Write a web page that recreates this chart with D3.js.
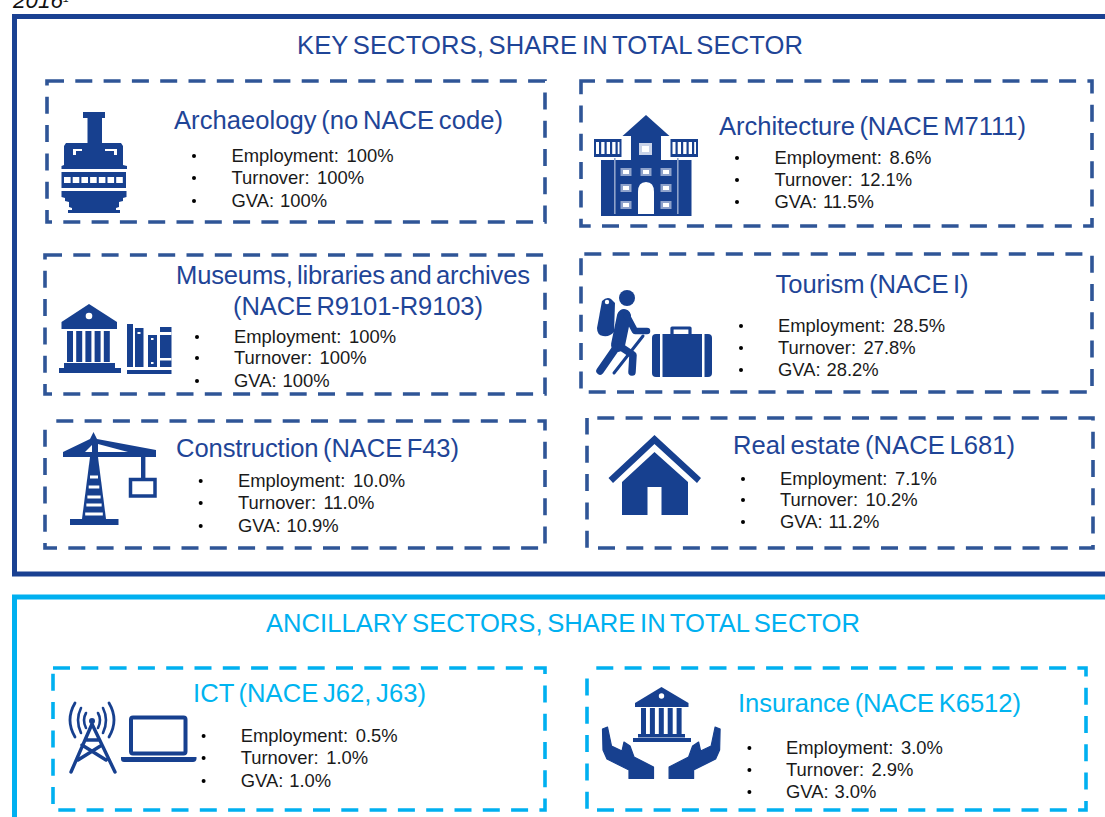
<!DOCTYPE html>
<html><head><meta charset="utf-8">
<script src="https://cdn.jsdelivr.net/npm/d3@7"></script>
<style>
html,body{margin:0;padding:0;background:#fff;overflow:hidden}
svg{display:block;font-family:"Liberation Sans",Arial,sans-serif}
</style></head><body>
<svg id="c" width="1105" height="817" viewBox="0 0 1105 817"></svg>
<script>
// ---- data ----
const yearLabel = "2016";
const sectionTitles = ["KEY SECTORS, SHARE IN TOTAL SECTOR", "ANCILLARY SECTORS, SHARE IN TOTAL SECTOR"];
const sectors = [
  ["Archaeology (no NACE code)"],
  ["Architecture (NACE M7111)"],
  ["Museums, libraries and archives", "(NACE R9101-R9103)"],
  ["Tourism (NACE I)"],
  ["Construction (NACE F43)"],
  ["Real estate (NACE L681)"],
  ["ICT (NACE J62, J63)"],
  ["Insurance (NACE K6512)"]
];
const employment = [100, 8.6, 100, 28.5, 10.0, 7.1, 0.5, 3.0];
const turnover   = [100, 12.1, 100, 27.8, 11.0, 10.2, 1.0, 2.9];
const gva        = [100, 11.5, 100, 28.2, 10.9, 11.2, 1.0, 3.0];
const indicators = ["Employment:", "Turnover:", "GVA:"];

// ---- layout (separate from data) ----
const DARK = "#1a4192", DASH = "#2f5597", LIGHT = "#00b0f0", INK = "#17408f";
const indicatorGap = [2.6, 2.4, 0.8];
const sectionLayout = [
  {x:297, w:506, y:54, color:"#1f4597"},
  {x:266, w:594, y:632, color:"#00b0f0"}
];
const cardLayout = [
  {b:[47,545,81,222], t:[[174,329,129]], bx:194, tx:231.5, ys:[162,184,207], c:0, off:0},
  {b:[581,1092,81,226], t:[[719,307,135]], bx:737, tx:774.5, ys:[164,186,208], c:0, off:3},
  {b:[45,545,255,394], t:[[176,354,284],[233,250,315]], bx:197, tx:234, ys:[343,364,387], c:0, off:0},
  {b:[581,1092,254,392], t:[[775.5,193,293]], bx:741, tx:778, ys:[332,354,376], c:0, off:25},
  {b:[45,545,421,548], t:[[176,283,457]], bx:200.7, tx:238, ys:[487,509,532], c:0, off:17},
  {b:[587,1093,418,548], t:[[733,282,454]], bx:743, tx:780, ys:[485,506,528], c:0, off:18},
  {b:[53,545,668,810], t:[[193,233,702]], bx:203.6, tx:240.7, ys:[742,764,787], c:1, off:0},
  {b:[587,1086,668,810], t:[[738,283,712]], bx:749.4, tx:786, ys:[754,776,798], c:1, off:19}
];

const svg = d3.select("#c");
const fmt = v => v === 100 ? "100%" : d3.format(".1f")(v) + "%";

// year label cut off at top
svg.append("text").attr("x",13).attr("y",8).attr("font-size",22.5).attr("font-style","italic").attr("fill","#111")
  .text(yearLabel).append("tspan").attr("font-size",11).attr("dy",-6).text("1");

// section frames, open on the right / bottom
const frame = d3.path(); frame.moveTo(1130,16.5); frame.lineTo(14.5,16.5); frame.lineTo(14.5,574); frame.lineTo(1130,574);
svg.append("path").attr("d",frame.toString()).attr("fill","none").attr("stroke",DARK).attr("stroke-width",5);
const frame2 = d3.path(); frame2.moveTo(1130,597); frame2.lineTo(14.5,597); frame2.lineTo(14.5,840);
svg.append("path").attr("d",frame2.toString()).attr("fill","none").attr("stroke",LIGHT).attr("stroke-width",5);

svg.selectAll("text.section").data(sectionTitles).join("text").attr("class","section")
  .attr("x",(d,i)=>sectionLayout[i].x).attr("y",(d,i)=>sectionLayout[i].y)
  .attr("textLength",(d,i)=>sectionLayout[i].w).attr("lengthAdjust","spacing")
  .attr("font-size",25.6).attr("word-spacing",-2.5).attr("fill",(d,i)=>sectionLayout[i].color).text(d=>d);

// cards
const rows = sectors.map((s,i)=>({title:s, vals:[employment[i],turnover[i],gva[i]], L:cardLayout[i]}));
const cards = svg.selectAll("g.card").data(rows).join("g").attr("class","card");
cards.append("path")
  .attr("d",d=>{const [x0,x1,y0,y1]=d.L.b,p=d3.path();p.moveTo(x0,y0);p.lineTo(x1,y0);p.lineTo(x1,y1);p.lineTo(x0,y1);p.closePath();return p.toString();})
  .attr("fill","none").attr("stroke",d=>d.L.c?LIGHT:DASH).attr("stroke-width",3.6)
  .attr("stroke-dasharray","17 11.3").attr("stroke-dashoffset",d=>d.L.off);
cards.each(function(d){
  const g=d3.select(this);
  d.title.forEach((t,j)=>{
    const [x,w,y]=d.L.t[j];
    g.append("text").attr("x",x).attr("y",y).attr("font-size",25.6).attr("word-spacing",-2.5).attr("textLength",w).attr("lengthAdjust","spacing")
      .attr("fill",d.L.c?"#00b4f0":"#1f4597").text(t);
  });
  d.vals.forEach((v,j)=>{
    g.append("circle").attr("cx",d.L.bx).attr("cy",d.L.ys[j]-6).attr("r",2).attr("fill","#000");
    g.append("text").attr("x",d.L.tx).attr("y",d.L.ys[j]).attr("font-size",18.4).attr("word-spacing",indicatorGap[j]).attr("fill","#1a1a1a")
      .text(indicators[j]+" "+fmt(v));
  });
});

// ---- pictograms ----
const ic = svg.append("g").attr("fill",INK);
const R=(x,y,w,h,f)=>ic.append("rect").attr("x",x).attr("y",y).attr("width",w).attr("height",h).attr("fill",f||INK);
const P=(d,f)=>ic.append("path").attr("d",d).attr("fill",f||INK);
const S=(d,w,c)=>ic.append("path").attr("d",d).attr("fill","none").attr("stroke",c||INK).attr("stroke-width",w).attr("stroke-linecap","round").attr("stroke-linejoin","round");
const C=(x,y,r,f)=>ic.append("circle").attr("cx",x).attr("cy",y).attr("r",r).attr("fill",f||INK);

// amphora
R(83,112,22,6);R(87.5,118,14.5,25);
P("M66,143H121L123,146V165L127,166V169H61.5V166L64,165V146Z");
P("M73,149H82V151H76V155H73Z","#fff");P("M105,149H117V155H114V151H105Z","#fff");
R(61.5,172,64.5,16);
d3.range(7).forEach(i=>R(64+i*8.7,177,6.6,6,"#fff"));
P("M61.5,191H126.5V197L123,198V201L119,202V207L116,208V210H120V213H68V210H72V208L69,207V202L65,201V198L61.5,197Z");

// architecture building
P("M646,115L669.5,136H622.5Z");R(631,136,30,25);R(639,143,13,12,"#c9d3e8");R(642,146,7,6,"#fff");
R(601,160,90.5,56);
[[594,139],[670.5,139]].forEach(([x,y])=>{R(x,y,27.5,18);R(x+2,y+3,23.5,12,"#fff");d3.range(4).forEach(i=>R(x+5+i*5.5,y+3,2.2,12));});
R(614,158,1.6,56,"#8ea2cb");R(677,158,1.6,56,"#8ea2cb");
P("M638,214V192Q638,182,646,182Q654,182,654,192V214Z","#fff");
[[626,172],[646,172],[666,172],[626,188],[666,188],[626,205],[666,205]].forEach(([x,y])=>{R(x-5.5,y-4,11,8,"#8ea2cb");R(x-3,y-2,6,4,"#fff");});

// museum + books
P("M89,304L117,322V329H61.5V322Z");C(89,316,3.3,"#fff");
d3.range(5).forEach(i=>R(67+i*9.2,331,6,31));
R(64,363,51,5);R(59,368,62,5);
R(127,324,6,43);R(135,328,8.5,39);R(148,335,9,32);R(160,327,11.5,40);
R(137.5,332,3,2,"#fff");R(151,338,2.5,2,"#fff");R(151,362,2.5,2,"#fff");R(160,332,11.5,3,"#fff");R(160,358,11.5,2.5,"#fff");
R(127,370,44.5,4);

// hiker + suitcase
C(627,298,8);
P("M602,301Q607,296,611,299L615,303L614,332Q610,337,603,336Q597,335,597,328Z");C(607,302,2.2,"#fff");
S("M624,316L618,345",14);S("M618,345L600,371",7.5);S("M621,347L633,355L632,372",7.5);S("M627,316L635,331L647,331",6.5);S("M643,336L614,373",3);
P("M652,338Q652,334,656,334H708Q712,334,712,338V373Q712,377,708,377H656Q652,377,652,373Z");
R(660,333,2.5,45,"#fff");R(702,333,2.5,45,"#fff");
S("M672,334V328H690V334",3.2);

// crane
P("M93.5,432L97,439L156,450L156,457H63L63,452L90,439Z");
P("M85,452L92,445V452Z","#fff");P("M98,444L128,452H98Z","#fff");
P("M90,457H98L106,519H82Z");
[477,487,497,505,514].forEach(y=>{const hw=4+(y-457)*0.13;R(94-hw+2.6,y-1.5,2*hw-5.2,3,"#fff");});
R(70,519,48.5,6);R(141,457,4.4,22);
ic.append("rect").attr("x",130.5).attr("y",479.5).attr("width",24.5).attr("height",16.5).attr("fill","none").attr("stroke",INK).attr("stroke-width",3.5);

// house
P("M654.5,435L701,478L697,483L654.5,444L613,483L608.5,478Z");
P("M654.5,452L688,482V515H661.5V487H647.5V515H622V482Z");

// ict
S("M92,724L71,772M92,724L115,772M82,745L106,760M102,745L78,760M86,740H98",3.4);
C(92,721,3);
S("M86,713Q82,720,86,728M98,713Q102,720,98,728",2.6);
S("M81,708Q75,720,81,733M103,708Q109,720,103,733",2.6);
S("M75,703Q65,720,75,737M109,703Q119,720,109,737",2.8);
ic.append("rect").attr("x",131).attr("y",717.5).attr("width",54.5).attr("height",36).attr("rx",2).attr("fill","none").attr("stroke",INK).attr("stroke-width",4);
P("M121,757H196.5V759Q196,762,193,762H124Q121,762,121,759Z");

// insurance
P("M661.5,687L688.5,703V707H635V703Z");C(661.5,696,2.7,"#fff");
d3.range(5).forEach(i=>R(641+i*8.9,708,5,26));
R(638,734,47,3.5);R(633,738,58,4);
const hand="M602.5,729L607.5,727L611.5,746L622,751L624,742L630,746L634,757L653.5,767V778.5H629V770L607,759L603,750Z";
P(hand).attr("stroke",INK).attr("stroke-width",1.2).attr("stroke-linejoin","round");
ic.append("path").attr("d",hand).attr("fill",INK).attr("stroke",INK).attr("stroke-width",1.2).attr("stroke-linejoin","round").attr("transform","translate(1322.6,0) scale(-1,1)");
</script>
</body></html>
